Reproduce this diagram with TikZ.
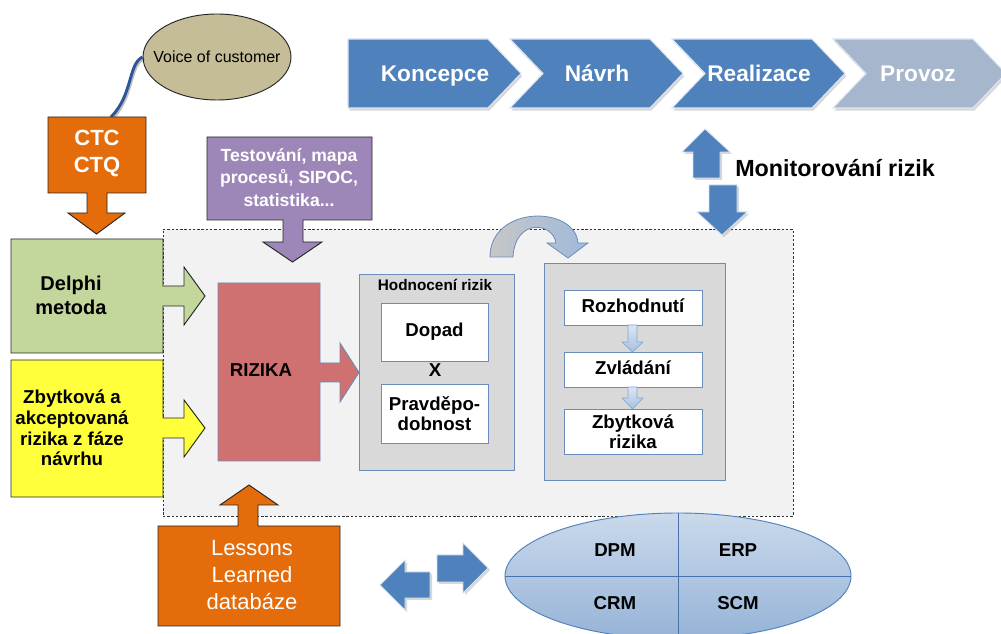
\documentclass[tikz,border=0pt]{standalone}
\usepackage{fontspec}
\setmainfont{Liberation Sans}
\usetikzlibrary{fit,shadows,shapes.geometric}

\definecolor{cOrange}{HTML}{E46C0A}
\definecolor{cPurple}{HTML}{9C87B8}
\definecolor{cGreen}{HTML}{C3D69B}
\definecolor{cYellow}{HTML}{FFFF3C}
\definecolor{cRed}{HTML}{CF7170}
\definecolor{cBlue}{HTML}{4F81BD}
\definecolor{cGrayBlue}{HTML}{A6B6CC}
\definecolor{cPanel}{HTML}{D9D9D9}
\definecolor{cBack}{HTML}{F2F2F2}
\definecolor{cEdge}{HTML}{6A8BBB}
\definecolor{cTan}{HTML}{C4BD97}
\definecolor{cWire}{HTML}{2F5597}

\newcommand\fs[2]{\fontsize{#1}{#2}\selectfont}

\tikzset{
  callout/.style={draw=black!85, line width=0.7pt},
  panel/.style={draw=cEdge, fill=cPanel, line width=0.7pt, inner sep=0pt},
  item/.style={draw=cEdge, fill=white, line width=0.7pt, inner sep=0pt},
  itemtext/.style={align=center, inner sep=0pt, font=\bfseries\fs{14}{15}},
  oneline/.style={text height=0.72em, text depth=0pt},
  chev/.style={draw=white!80!cBlue, line width=0.8pt,
    drop shadow={opacity=0.3, shadow xshift=1pt, shadow yshift=-2pt}},
  chevtext/.style={anchor=base, inner sep=0pt, text=white, font=\bfseries\fs{17}{20}},
  blockarrow/.style={fill=cBlue, draw=white!75!cBlue, line width=0.6pt,
    drop shadow={opacity=0.3, shadow xshift=1.5pt, shadow yshift=-1.5pt}},
  minarrow/.style={top color=white!80!cBlue, bottom color=white!50!cBlue,
    draw=white!30!cBlue, line width=0.5pt},
  label/.style={align=center, inner sep=0pt},
}

\begin{document}
\begin{tikzpicture}[x=0.75pt, y=-0.75pt]
\useasboundingbox[fill=white] (0,0) rectangle (1001,634);

% phase chevrons
\path[chev, fill=cBlue] (348,39) -- (488,39) -- (521,73.5) -- (488,108) -- (348,108) -- cycle;
\path[chev, fill=cBlue] (510,39) -- (650,39) -- (683,73.5) -- (650,108) -- (510,108) -- (543,73.5) -- cycle;
\path[chev, fill=cBlue] (672,39) -- (812,39) -- (845,73.5) -- (812,108) -- (672,108) -- (705,73.5) -- cycle;
\path[chev, fill=cGrayBlue] (833,39) -- (973,39) -- (1006,73.5) -- (973,108) -- (833,108) -- (866,73.5) -- cycle;
\node[chevtext] (koncepce) at (435,81.6) {Koncepce};
\node[chevtext] (navrh) at (597,81.6) {Návrh};
\node[chevtext] (realizace) at (759,81.6) {Realizace};
\node[chevtext] (provoz) at (918,81.6) {Provoz};

% risk monitoring arrows
\path[blockarrow] (705,129) -- (730,152) -- (720,152) -- (720,178) -- (693,178) -- (693,152) -- (682,152) -- cycle;
\node[anchor=west, inner sep=0pt, font=\bfseries\fs{17.5}{20}] (monitor) at (735,168) {Monitorování rizik};

% shared process area
\node[fit={(163,229) (793,516)}, inner sep=0pt, fill=cBack, draw=black!80,
  line width=0.6pt, dash pattern=on 1.8pt off 1.4pt] (area) {};

\path[blockarrow] (709,185) -- (737,185) -- (737,212) -- (747,212) -- (722,235) -- (697,212) -- (709,212) -- cycle;

% voice of customer
\node[ellipse, draw=black!85, fill=cTan, line width=0.7pt, inner sep=0pt,
  minimum width=111pt, minimum height=64.5pt] (voice) at (217,57) {};
\node[label, font=\fs{12}{14}] (voicetext) at (voice.center) {Voice of customer};
\coordinate (ctctop) at (111,117);
\draw[black, opacity=0.25, line width=2.6pt] ([xshift=1pt,yshift=-1pt]voice.west)
  .. controls (129,65) and (134,96) .. ([xshift=1pt,yshift=-1pt]ctctop);
\draw[cWire, line width=2.2pt] (voice.west) .. controls (128,64) and (133,95) .. (ctctop);

% CTC / CTQ callout
\path[callout, fill=cOrange] (48,117) -- (146,117) -- (146,193) -- (107,193) -- (107,213) -- (125,213)
  -- (96.5,234) -- (68,213) -- (87,213) -- (87,193) -- (48,193) -- cycle;
\node[label, text=white, font=\bfseries\fs{16.5}{20}] (ctc) at (97,153.5) {CTC\\CTQ};

% tools callout
\path[callout, fill=cPurple] (207,137) -- (372,137) -- (372,220) -- (303,220) -- (303,242) -- (322,242)
  -- (292.5,262) -- (263,242) -- (283,242) -- (283,220) -- (207,220) -- cycle;
\node[label, text=white, font=\bfseries\fs{13.2}{16.9}] (tools) at (289,177.5) {Testování, mapa\\procesů, SIPOC,\\statistika...};

% Delphi callout
\path[callout, fill=cGreen] (11,239) -- (163,239) -- (163,286) -- (184,286) -- (184,267) -- (205,296)
  -- (184,325) -- (184,306) -- (163,306) -- (163,353) -- (11,353) -- cycle;
\node[label, font=\bfseries\fs{15}{18}] (delphi) at (71,295) {Delphi\\metoda};

% residual risks callout
\path[callout, fill=cYellow] (11,360) -- (163,360) -- (163,418) -- (184,418) -- (184,400) -- (205,428)
  -- (184,457) -- (184,438) -- (163,438) -- (163,497) -- (11,497) -- cycle;
\node[label, font=\bfseries\fs{14}{15.5}] (residual) at (72,428) {Zbytková a\\akceptovaná\\rizika z fáze\\návrhu};

% risks block
\path[fill=cRed, draw=cEdge, line width=0.7pt] (218,283) -- (320,283) -- (320,363) -- (340,363) -- (340,343)
  -- (359,372.5) -- (340,402) -- (340,382) -- (320,382) -- (320,461) -- (218,461) -- cycle;
\node[label, oneline, font=\bfseries\fs{14}{16}] (rizika) at (261,372) {RIZIKA};

% assessment panel
\node[panel, fit={(359,274) (514,470)}] (assess) {};
\node[label, font=\bfseries\fs{11.5}{13}] (assesstitle) at (435,285) {Hodnocení rizik};
\node[item, fit={(381,303) (488,361)}] (dopad) {};
\node[itemtext, oneline] (dopadtext) at (dopad.center) {Dopad};
\node[label, oneline, font=\bfseries\fs{14}{16}] (times) at (435,372) {X};
\node[item, fit={(381,384) (488,443)}] (pravd) {};
\node[itemtext] (pravdtext) at (pravd.center) {Pravděpo-\\dobnost};

% hand-over arrow between panels
\path[left color=black!22, right color=white!45!cBlue, draw=cEdge, line width=0.6pt]
  (490,257) .. controls (490,205) and (575,205) .. (578,243) -- (588,243) -- (568,258) -- (547,243)
  -- (556,243) .. controls (553,222) and (515,218) .. (513,257) -- cycle;

% response panel
\node[panel, fit={(544,263) (725,480)}] (response) {};
\node[item, fit={(564,290) (702,325)}] (rozh) {};
\node[itemtext, oneline] (rozhtext) at (rozh.center) {Rozhodnutí};
\node[item, fit={(564,352) (702,387)}] (zvl) {};
\node[itemtext, oneline] (zvltext) at (zvl.center) {Zvládání};
\node[item, fit={(564,409) (702,454)}] (zbyt) {};
\node[itemtext] (zbyttext) at (zbyt.center) {Zbytková\\rizika};
\path[minarrow] (628,325) -- (637,325) -- (637,342) -- (643,342) -- (632.5,352) -- (622,342) -- (628,342) -- cycle;
\path[minarrow] (628,387) -- (637,387) -- (637,398) -- (643,398) -- (632.5,409) -- (622,398) -- (628,398) -- cycle;

% lessons learned callout
\path[callout, fill=cOrange] (158,626) -- (158,526) -- (238,526) -- (238,505) -- (220,505) -- (249,485)
  -- (278,505) -- (258,505) -- (258,526) -- (340,526) -- (340,626) -- cycle;
\node[label, text=white, font=\fs{16.5}{20.5}] (lessons) at (252,575) {Lessons\\Learned\\databáze};

% exchange arrows
\path[blockarrow] (380,585) -- (405,560) -- (405,572) -- (430,572) -- (430,598) -- (405,598) -- (405,610) -- cycle;
\path[blockarrow] (437,555) -- (463,555) -- (463,543) -- (488,568) -- (463,593) -- (463,582) -- (437,582) -- cycle;

% enterprise systems
\node[ellipse, inner sep=0pt, minimum width=259.5pt, minimum height=94.5pt,
  top color=white!70!cBlue, bottom color=white!40!cBlue, draw=cBlue, line width=0.7pt] (systems) at (678,576) {};
\draw[cBlue!90!black, line width=0.7pt] (systems.north) -- (systems.south);
\draw[cBlue!90!black, line width=0.7pt] (systems.west) -- (systems.east);
\node[label, oneline, font=\bfseries\fs{14}{16}] (dpm) at (615,552) {DPM};
\node[label, oneline, font=\bfseries\fs{14}{16}] (erp) at (738,552) {ERP};
\node[label, oneline, font=\bfseries\fs{14}{16}] (crm) at (615,605) {CRM};
\node[label, oneline, font=\bfseries\fs{14}{16}] (scm) at (738,605) {SCM};
\end{tikzpicture}
\end{document}
